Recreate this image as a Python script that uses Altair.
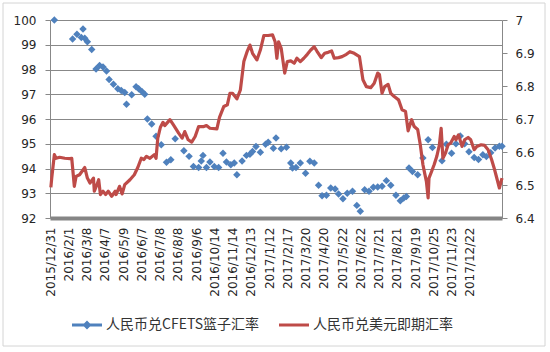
import altair as alt
import pandas as pd

tick_labels = ["2015/12/31", "2016/2/1", "2016/3/8", "2016/4/7", "2016/5/9", "2016/6/7",
               "2016/7/8", "2016/8/8", "2016/9/6", "2016/10/14", "2016/11/14", "2016/12/13",
               "2017/1/12", "2017/2/17", "2017/3/20", "2017/4/20", "2017/5/22", "2017/6/22",
               "2017/7/21", "2017/8/21", "2017/9/19", "2017/10/25", "2017/11/23", "2017/12/22"]

# trading-day index (0 = 2015/12/31, labels every 21 trading days)
blue_day = [5, 26, 31, 36, 38, 40, 43, 48, 53, 57, 61, 65, 68, 73, 78, 82, 86, 88, 94, 99,
            102, 106, 109, 112, 117, 122, 128, 134, 139, 144, 154, 160, 165, 171, 174, 176, 180, 184, 189, 194,
            199, 203, 208, 212, 215, 221, 226, 230, 233, 237, 242, 248, 251, 257, 260, 266, 272, 277, 279, 283,
            288, 294, 299, 304, 309, 313, 318, 323, 328, 332, 337, 342, 348, 353, 357, 362, 367, 372, 377, 382,
            387, 392, 398, 403, 407, 410, 413, 417, 423, 429, 435, 440, 451, 456, 462, 467, 472, 477, 482, 488,
            493, 498, 502, 507, 512, 517, 520]
blue_val = [100.0, 99.23, 99.42, 99.29, 99.64, 99.26, 99.12, 98.81, 98.02, 98.16,
            98.1, 97.94, 97.6, 97.4, 97.22, 97.15, 97.07, 96.6, 96.98, 97.3,
            97.22, 97.1, 97.0, 96.0, 95.8, 95.3, 94.96, 94.25, 94.35, 95.2,
            94.72, 94.49, 94.08, 94.04, 94.3, 94.53, 94.04, 94.26, 94.08, 94.04,
            94.62, 94.26, 94.15, 94.22, 93.75, 94.3, 94.53, 94.58, 94.69, 94.89,
            94.66, 94.98, 95.06, 94.82, 95.23, 94.8, 94.86, 94.22, 94.02, 94.04,
            94.22, 93.81, 94.29, 94.22, 93.32, 92.9, 92.92, 93.21, 93.17, 92.97,
            92.78, 93.0, 93.08, 92.51, 92.27, 93.14, 93.08, 93.24, 93.25, 93.28,
            93.51, 93.32, 92.92, 92.7, 92.81, 92.87, 94.02, 93.88, 93.75, 94.42,
            95.16, 94.85, 94.31, 94.98, 94.62, 95.0, 95.31, 95.0, 94.68, 94.44,
            94.36, 94.56, 94.48, 94.64, 94.83, 94.9, 94.9]

red_day = [1, 2, 5, 7, 11, 17, 23, 25, 28, 30, 34, 40, 43, 46, 50, 51, 54, 56, 58, 61,
           64, 67, 71, 75, 76, 80, 83, 86, 92, 97, 101, 105, 108, 111, 115, 120, 122, 124, 127, 130,
           132, 138, 142, 148, 152, 155, 159, 163, 167, 171, 177, 180, 184, 192, 195, 200, 204, 207, 210, 215,
           219, 223, 227, 230, 233, 238, 242, 246, 251, 256, 259, 261, 263, 266, 270, 273, 277, 281, 284, 288,
           292, 296, 300, 304, 307, 312, 316, 320, 324, 327, 332, 336, 341, 345, 350, 356, 358, 360, 364, 369,
           373, 377, 379, 382, 385, 389, 392, 396, 401, 405, 409, 412, 416, 419, 423, 426, 429, 431, 433, 435,
           436, 439, 442, 445, 448, 450, 452, 455, 458, 461, 465, 467, 470, 474, 477, 481, 484, 488, 491, 496,
           500, 504, 508, 511, 513, 517, 519, 520]
red_val = [6.493, 6.521, 6.592, 6.581, 6.584, 6.581, 6.580, 6.581, 6.496, 6.526,
           6.531, 6.553, 6.521, 6.506, 6.521, 6.481, 6.501, 6.516, 6.471, 6.481,
           6.471, 6.481, 6.466, 6.481, 6.471, 6.496, 6.473, 6.501, 6.516, 6.531,
           6.553, 6.581, 6.577, 6.587, 6.581, 6.592, 6.581, 6.642, 6.675, 6.690,
           6.680, 6.698, 6.682, 6.657, 6.642, 6.662, 6.637, 6.630, 6.647, 6.677,
           6.677, 6.680, 6.672, 6.670, 6.705, 6.738, 6.743, 6.778, 6.778, 6.761,
           6.788, 6.874, 6.906, 6.924, 6.899, 6.879, 6.909, 6.953, 6.953, 6.955,
           6.934, 6.884, 6.934, 6.914, 6.839, 6.874, 6.876, 6.869, 6.884, 6.874,
           6.884, 6.896, 6.909, 6.919, 6.906, 6.886, 6.899, 6.902, 6.906, 6.884,
           6.886, 6.889, 6.896, 6.904, 6.899, 6.889, 6.854, 6.819, 6.798, 6.795,
           6.808, 6.839, 6.835, 6.778, 6.798, 6.805, 6.778, 6.768, 6.758, 6.728,
           6.723, 6.664, 6.698, 6.677, 6.668, 6.622, 6.562, 6.536, 6.511, 6.461,
           6.521, 6.541, 6.562, 6.587, 6.622, 6.672, 6.581, 6.597, 6.622, 6.627,
           6.647, 6.637, 6.652, 6.617, 6.637, 6.644, 6.637, 6.607, 6.617, 6.622,
           6.620, 6.607, 6.577, 6.551, 6.531, 6.491, 6.511, 6.521]

left_ticks = [92, 93, 94, 95, 96, 97, 98, 99, 100]
right_ticks = [6.4, 6.5, 6.6, 6.7, 6.8, 6.9, 7.0]

S_BLUE = "人民币兑CFETS篮子汇率"
S_RED = "人民币兑美元即期汇率"
C_BLUE = "#4F81BD"
C_RED = "#BE4B48"

blue_df = pd.DataFrame({"day": blue_day, "value": blue_val})
red_df = pd.DataFrame({"day": red_day, "value": red_val})
legend_df = pd.DataFrame({"series": [S_BLUE, S_RED]})
frame_df = pd.DataFrame({"k": [0]})

AX = dict(labelFont="DejaVu Sans", labelFontSize=12, labelColor="#262626", title=None)
GRAY = "#888888"

step = 21
label_expr = "[" + ",".join("'%s'" % s for s in tick_labels) + "][round(datum.value/%d)]" % step
x_enc = alt.X("day:Q",
              scale=alt.Scale(domain=[0, 520], nice=False, zero=False),
              axis=alt.Axis(values=[i * step for i in range(len(tick_labels))], labelExpr=label_expr,
                            labelAngle=270, grid=False, ticks=False, tickSize=0, labelPadding=9,
                            domainColor="#858585", domainWidth=4, labelOverlap=False, **AX))

points = alt.Chart(blue_df).mark_point(filled=True, shape="diamond", size=56, opacity=1,
                                        color=C_BLUE).encode(
    x=x_enc,
    y=alt.Y("value:Q", scale=alt.Scale(domain=[92, 100], nice=False, zero=False),
            axis=alt.Axis(orient="left", values=left_ticks, grid=True, gridColor=GRAY, gridWidth=1,
                          tickSize=5, tickColor=GRAY, domainColor=GRAY, labelPadding=9, **AX)),
)

line = alt.Chart(red_df).mark_line(strokeWidth=3.2, color=C_RED, strokeJoin="round").encode(
    x=x_enc,
    y=alt.Y("value:Q", scale=alt.Scale(domain=[6.4, 7.0], nice=False, zero=False),
            axis=alt.Axis(orient="right", values=right_ticks, format=".1~f", grid=False,
                          tickSize=5, tickColor=GRAY, domainColor=GRAY, labelPadding=8, **AX)),
)

path_blue = "M-1,-0.1L1,-0.1L1,0.1L-1,0.1Z M0,-0.3L0.3,0L0,0.3L-0.3,0Z"
path_red = "M-1,-0.1L1,-0.1L1,0.1L-1,0.1Z"
leg = alt.Legend(title=None, orient="none", legendX=22, legendY=290, direction="horizontal",
                 symbolSize=900, labelFont="Noto Sans CJK SC", labelFontSize=14, labelColor="#333333",
                 labelOffset=4, columnPadding=19, symbolStrokeWidth=0, labelLimit=400)

legend_layer = alt.Chart(legend_df).transform_filter("false").mark_point(filled=True, opacity=1).encode(
    color=alt.Color("series:N", scale=alt.Scale(domain=[S_BLUE, S_RED], range=[C_BLUE, C_RED]), legend=leg),
    shape=alt.Shape("series:N", scale=alt.Scale(domain=[S_BLUE, S_RED], range=[path_blue, path_red]), legend=leg),
)

frame = alt.Chart(frame_df).mark_rect(fillOpacity=0, stroke="#d4d4d4", strokeWidth=1).encode(
    x=alt.value(-47), x2=alt.value(495), y=alt.value(-17), y2=alt.value(326))

chart = alt.layer(frame, points, line, legend_layer).resolve_scale(y="independent").properties(
    width=452, height=198,
    autosize=alt.AutoSizeParams(type="none"),
    padding={"left": 50, "top": 20, "right": 48, "bottom": 132},
    background="white",
).configure_view(stroke=None)

chart.save("out.html", embed_options={"renderer": "svg", "actions": False})
